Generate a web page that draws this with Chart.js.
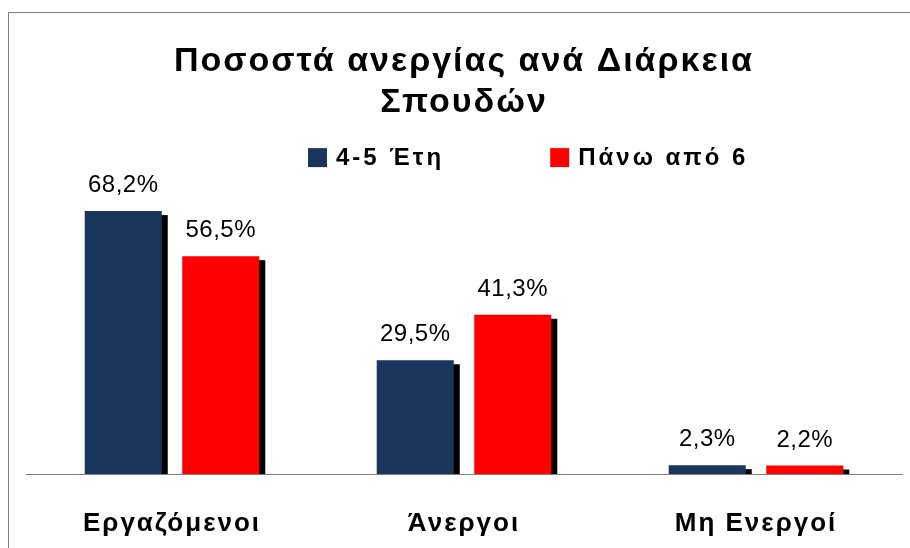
<!DOCTYPE html>
<html lang="el">
<head>
<meta charset="utf-8">
<title>Ποσοστά ανεργίας ανά Διάρκεια Σπουδών</title>
<script src="https://cdn.jsdelivr.net/npm/chart.js@4.4.1/dist/chart.umd.min.js"></script>
<style>
  html, body { margin: 0; padding: 0; background: #fff; }
  #wrap { position: relative; width: 910px; height: 548px; }
</style>
</head>
<body>
<div id="wrap"><canvas id="unemploymentChart"></canvas></div>
<script>
// -----------------------------
// Data
// -----------------------------
const categories = ["Εργαζόμενοι", "Άνεργοι", "Μη Ενεργοί"];
const seriesNames = ["4-5 Έτη", "Πάνω από 6"];
const years45 = [68.2, 29.5, 2.3];
const over6 = [56.5, 41.3, 2.2];
const titleLines = ["Ποσοστά ανεργίας ανά Διάρκεια", "Σπουδών"];

const NAVY = "#1B365D";
const RED = "#FF0000";
const FONT = "'Liberation Sans', Arial, sans-serif";

function formatPct(v) {
  return v.toFixed(1).replace(".", ",") + "%";
}

// -----------------------------
// Plugin: outer frame + wider letter spacing for chart texts
// -----------------------------
const framePlugin = {
  id: "frame",
  beforeDraw(chart) {
    const ctx = chart.ctx;
    ctx.save();
    ctx.strokeStyle = "#808080";
    ctx.lineWidth = 1;
    ctx.strokeRect(8.5, 12.5, chart.width + 20, chart.height + 20);
    ctx.restore();
    ctx.letterSpacing = "2px";
  }
};

// -----------------------------
// Plugin: black drop shadow behind every bar
// -----------------------------
const shadowPlugin = {
  id: "barShadow",
  beforeDatasetsDraw(chart) {
    const ctx = chart.ctx;
    ctx.save();
    ctx.fillStyle = "#000";
    chart.data.datasets.forEach((ds, i) => {
      chart.getDatasetMeta(i).data.forEach(bar => {
        const { x, y, base, width } = bar.getProps(["x", "y", "base", "width"], true);
        ctx.fillRect(x - width / 2 + 6, y + 4, width, base - y - 4);
      });
    });
    ctx.restore();
  }
};

// -----------------------------
// Plugin: value labels above bars
// -----------------------------
const valueLabelPlugin = {
  id: "valueLabels",
  afterDatasetsDraw(chart) {
    const ctx = chart.ctx;
    ctx.save();
    ctx.letterSpacing = "0.5px";
    ctx.font = "24px " + FONT;
    ctx.fillStyle = "#000";
    ctx.textAlign = "center";
    ctx.textBaseline = "alphabetic";
    chart.data.datasets.forEach((ds, i) => {
      chart.getDatasetMeta(i).data.forEach((bar, j) => {
        ctx.fillText(formatPct(ds.data[j]), bar.x, bar.y - 19);
      });
    });
    ctx.restore();
  }
};

// -----------------------------
// Plugin: legend row (sits right of centre, like the original)
// -----------------------------
const legendRowPlugin = {
  id: "legendRow",
  afterDraw(chart) {
    const ctx = chart.ctx;
    const area = chart.chartArea;
    const cy = area.top - 8;
    const box = 19;
    let x = area.left + 282;
    ctx.save();
    ctx.letterSpacing = "3px";
    ctx.font = "bold 24px " + FONT;
    ctx.textAlign = "left";
    ctx.textBaseline = "middle";
    chart.data.datasets.forEach(ds => {
      ctx.fillStyle = ds.backgroundColor;
      ctx.fillRect(x, cy - box / 2, box, box);
      ctx.fillStyle = "#000";
      ctx.fillText(ds.label, x + box + 9, cy + 1);
      x += box + 9 + ctx.measureText(ds.label).width + 106;
    });
    ctx.restore();
  }
};

new Chart(document.getElementById("unemploymentChart"), {
  type: "bar",
  data: {
    labels: categories,
    datasets: [
      { label: seriesNames[0], data: years45, backgroundColor: NAVY },
      { label: seriesNames[1], data: over6, backgroundColor: RED }
    ]
  },
  options: {
    responsive: true,
    maintainAspectRatio: false,
    animation: false,
    devicePixelRatio: 1,
    layout: { padding: { left: 26, right: 8, top: 0, bottom: 0 } },
    datasets: {
      bar: { categoryPercentage: 0.668, barPercentage: 0.79 }
    },
    plugins: {
      legend: { display: false },
      tooltip: { enabled: false },
      title: {
        display: true,
        text: titleLines,
        color: "#000",
        font: { family: FONT, size: 34, weight: "bold", lineHeight: 1.2 },
        padding: { top: 41, bottom: 43 }
      }
    },
    scales: {
      x: {
        grid: { display: false, drawTicks: false },
        border: { display: true, color: "#808080", width: 1 },
        ticks: {
          color: "#000",
          padding: 34,
          font: { family: FONT, size: 26, weight: "bold" }
        },
        afterFit(scale) {
          scale.height = 74;
        }
      },
      y: {
        display: false,
        min: 0,
        max: 80
      }
    }
  },
  plugins: [framePlugin, shadowPlugin, valueLabelPlugin, legendRowPlugin]
});
</script>
</body>
</html>
